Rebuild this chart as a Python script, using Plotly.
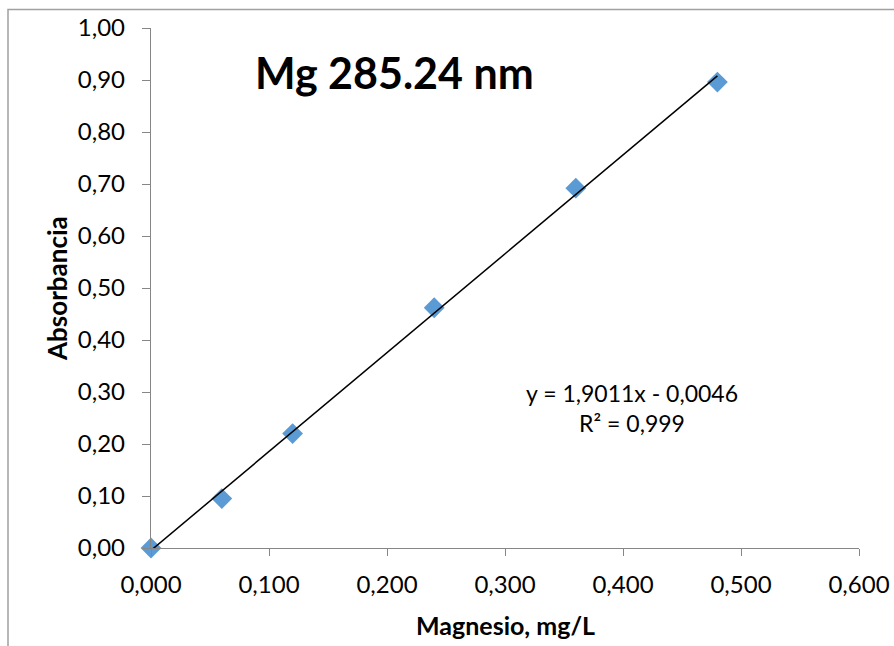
import plotly.graph_objects as go

# Data
conc = [0.0, 0.06, 0.12, 0.24, 0.36, 0.48]
absorb = [0.0, 0.095, 0.22, 0.462, 0.692, 0.896]
slope = 1.9011
intercept = -0.0046
x_ticks = [0.0, 0.1, 0.2, 0.3, 0.4, 0.5, 0.6]
y_ticks = [0.0, 0.1, 0.2, 0.3, 0.4, 0.5, 0.6, 0.7, 0.8, 0.9, 1.0]

trend_x = [min(conc), max(conc)]
trend_y = [slope * v + intercept for v in trend_x]

FONT = "Lato"
W, H = 894, 646
L, R, T, B = 151, 35, 28, 98
pw, ph = W - L - R, H - T - B

fig = go.Figure()
fig.add_trace(go.Scatter(
    x=conc, y=absorb, mode="markers",
    marker=dict(symbol="diamond", size=16, color="#5B9BD5"),
    cliponaxis=False, showlegend=False))
fig.add_trace(go.Scatter(
    x=trend_x, y=trend_y, mode="lines",
    line=dict(color="black", width=1.5),
    cliponaxis=False, showlegend=False))

axis_common = dict(
    showgrid=False, zeroline=False, showline=True, linecolor="#868686",
    linewidth=1.3, ticks="outside", tickcolor="#868686", tickwidth=1.3,
    tickfont=dict(family=FONT, size=24, color="black"), automargin=False,
)
fig.update_xaxes(range=[0, 0.6], tickvals=x_ticks, tickformat=".3f", ticklen=7,
                 ticklabelstandoff=8, **axis_common)
fig.update_yaxes(range=[0, 1.0], tickvals=y_ticks, tickformat=".2f", ticklen=8,
                 ticklabelstandoff=12, **axis_common)

def px_x(p):
    return (p - L) / pw

def px_y(p):
    return (H - B - p) / ph

fig.add_shape(type="rect", xref="paper", yref="paper",
              x0=px_x(8), x1=px_x(910), y0=px_y(660), y1=px_y(9.5),
              line=dict(color="#A0A0A0", width=1.5), layer="below")

fig.add_annotation(text="<b>Mg 285.24 nm</b>", xref="paper", yref="paper",
                   x=px_x(394), y=px_y(72), xanchor="center", yanchor="middle",
                   showarrow=False, font=dict(family=FONT, size=43, color="black"))
fig.add_annotation(text="y = 1,9011x - 0,0046<br>R² = 0,999", xref="paper", yref="paper",
                   x=px_x(632), y=px_y(408), xanchor="center", yanchor="middle",
                   showarrow=False, align="center",
                   font=dict(family=FONT, size=23, color="black"))
fig.add_annotation(text="<b>Magnesio, mg/L</b>", xref="paper", yref="paper",
                   x=px_x(506), y=px_y(625), xanchor="center", yanchor="middle",
                   showarrow=False, font=dict(family=FONT, size=25, color="black"))
fig.add_annotation(text="<b>Absorbancia</b>", xref="paper", yref="paper",
                   x=px_x(57), y=px_y(289), xanchor="center", yanchor="middle",
                   textangle=-90, showarrow=False,
                   font=dict(family=FONT, size=26, color="black"))

fig.update_layout(
    width=W, height=H, margin=dict(l=L, r=R, t=T, b=B),
    paper_bgcolor="white", plot_bgcolor="white", separators=",.",
    font=dict(family=FONT, color="black"),
)
fig.write_html("out.html")
